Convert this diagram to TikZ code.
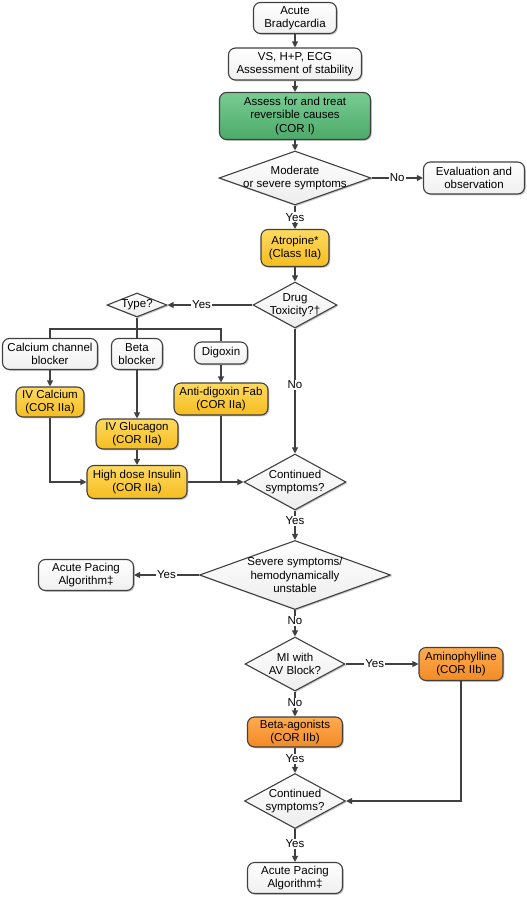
\documentclass[tikz,border=0pt]{standalone}
\usepackage{fontspec}
\setmainfont{Liberation Sans}
\usetikzlibrary{shapes.geometric,arrows.meta,shadows}
\definecolor{lnc}{HTML}{404040}
\definecolor{grnT}{HTML}{78CC92}
\definecolor{grnB}{HTML}{4CAA6A}
\definecolor{ylwT}{HTML}{FFDA60}
\definecolor{ylwB}{HTML}{F5BD1F}
\definecolor{orgT}{HTML}{FFAB50}
\definecolor{orgB}{HTML}{F28A26}
\newcommand\myfs{\fontsize{11.5}{13.3}\selectfont}
\begin{document}
\begin{tikzpicture}[x=1pt,y=-1pt,
  base/.style={draw=lnc, line width=1.1pt, font=\myfs, align=center, inner sep=1pt,
    drop shadow={shadow xshift=1.3pt,shadow yshift=-1.3pt,fill=black,opacity=0.22}},
  wbox/.style={base, rounded corners=7pt, top color=white, bottom color=gray!12},
  gbox/.style={base, rounded corners=7pt, top color=grnT, bottom color=grnB},
  ybox/.style={base, rounded corners=7pt, top color=ylwT, bottom color=ylwB},
  obox/.style={base, rounded corners=7pt, top color=orgT, bottom color=orgB},
  dia/.style={base, diamond, inner sep=0pt, top color=white, bottom color=gray!14},
  dtext/.style={align=center, font=\myfs, inner sep=0pt},
  arr/.style={draw=lnc, line width=1.1pt, -{Triangle[length=6pt,width=6pt]}},
  lin/.style={draw=lnc, line width=1.1pt},
  lab/.style={fill=white, inner sep=1pt, font=\myfs, text=black}
]
\useasboundingbox (0,0) rectangle (527,900);

% nodes
\node[wbox, minimum width=83, minimum height=31] (ab) at (295,18) {Acute\\Bradycardia};
\node[wbox, minimum width=133, minimum height=32] (vs) at (295,64) {VS, H+P, ECG\\Assessment of stability};
\node[gbox, minimum width=151, minimum height=47] (rc) at (295,116) {Assess for and treat\\reversible causes\\(COR I)};
\node[dia, minimum width=152, minimum height=54, label={[dtext]center:Moderate\\or severe symptoms}] (d1) at (295,178) {};
\node[wbox, minimum width=101, minimum height=32] (ev) at (474,178) {Evaluation and\\observation};
\node[ybox, minimum width=68, minimum height=37] (at) at (295,248) {Atropine*\\(Class IIa)};
\node[dia, minimum width=84, minimum height=46, label={[dtext]center:Drug\\Toxicity?†}] (d2) at (295,305) {};
\node[dia, minimum width=60, minimum height=24, label={[dtext]center:Type?}] (ty) at (137,305) {};
\node[wbox, minimum width=95, minimum height=31] (ccb) at (50,354) {Calcium channel\\blocker};
\node[wbox, minimum width=51, minimum height=31] (bb) at (137,354) {Beta\\blocker};
\node[wbox, minimum width=53, minimum height=22] (dg) at (221,353) {Digoxin};
\node[ybox, minimum width=68, minimum height=30] (ivc) at (50,402) {IV Calcium\\(COR IIa)};
\node[ybox, minimum width=94, minimum height=32] (fab) at (221,399) {Anti-digoxin Fab\\(COR IIa)};
\node[ybox, minimum width=82, minimum height=30] (ivg) at (137,434) {IV Glucagon\\(COR IIa)};
\node[ybox, minimum width=100, minimum height=33] (ins) at (137,482) {High dose Insulin\\(COR IIa)};
\node[dia, minimum width=102, minimum height=56, label={[dtext]center:Continued\\symptoms?}] (d3) at (295,482) {};
\node[dia, minimum width=191, minimum height=69, label={[dtext]center:Severe symptoms/\\hemodynamically\\unstable}] (d4) at (295,575) {};
\node[wbox, minimum width=95, minimum height=31] (ap1) at (86,575) {Acute Pacing\\Algorithm‡};
\node[dia, minimum width=100, minimum height=54, label={[dtext]center:MI with\\AV Block?}] (d5) at (295,664) {};
\node[obox, minimum width=84, minimum height=33] (am) at (461,664) {Aminophylline\\(COR IIb)};
\node[obox, minimum width=95, minimum height=30] (ba) at (295,732) {Beta-agonists\\(COR IIb)};
\node[dia, minimum width=101, minimum height=55, label={[dtext]center:Continued\\symptoms?}] (d6) at (295,801) {};
\node[wbox, minimum width=95, minimum height=31] (ap2) at (295,878) {Acute Pacing\\Algorithm‡};
\coordinate (bus) at (137,329);

% connectors
\draw[arr] (ab) -- (vs);
\draw[arr] (vs) -- (rc);
\draw[arr] (rc) -- (d1);
\draw[arr] (d1) -- node[lab]{No} (ev);
\draw[arr] (d1) -- node[lab]{Yes} (at);
\draw[arr] (at) -- (d2);
\draw[arr] (d2) -- node[lab, pos=0.6]{Yes} (ty);
\draw[lin] (ty) -- (bus);
\draw[lin] (ccb.north) |- (bus) -| (dg.north);
\draw[lin] (bus) -- (bb.north);
\draw[arr] (ccb) -- (ivc);
\draw[arr] (bb) -- (ivg);
\draw[arr] (dg) -- (fab);
\draw[arr] (ivg) -- (ins);
\draw[arr] (ivc.south) |- (ins.west);
\draw[arr] (ins) -- (d3);
\draw[lin] (fab.south) -- (fab.south |- ins.east);
\draw[arr] (d2) -- node[lab, pos=0.45]{No} (d3);
\draw[arr] (d3) -- node[lab, pos=0.35]{Yes} (d4);
\draw[arr] (d4) -- node[lab]{Yes} (ap1);
\draw[arr] (d4) -- node[lab, pos=0.4]{No} (d5);
\draw[arr] (d5) -- node[lab, pos=0.4]{Yes} (am);
\draw[arr] (d5) -- node[lab, pos=0.45]{No} (ba);
\draw[arr] (ba) -- node[lab, pos=0.45]{Yes} (d6);
\draw[arr] (am.south) |- (d6.east);
\draw[arr] (d6) -- node[lab, pos=0.45]{Yes} (ap2);
\end{tikzpicture}
\end{document}
